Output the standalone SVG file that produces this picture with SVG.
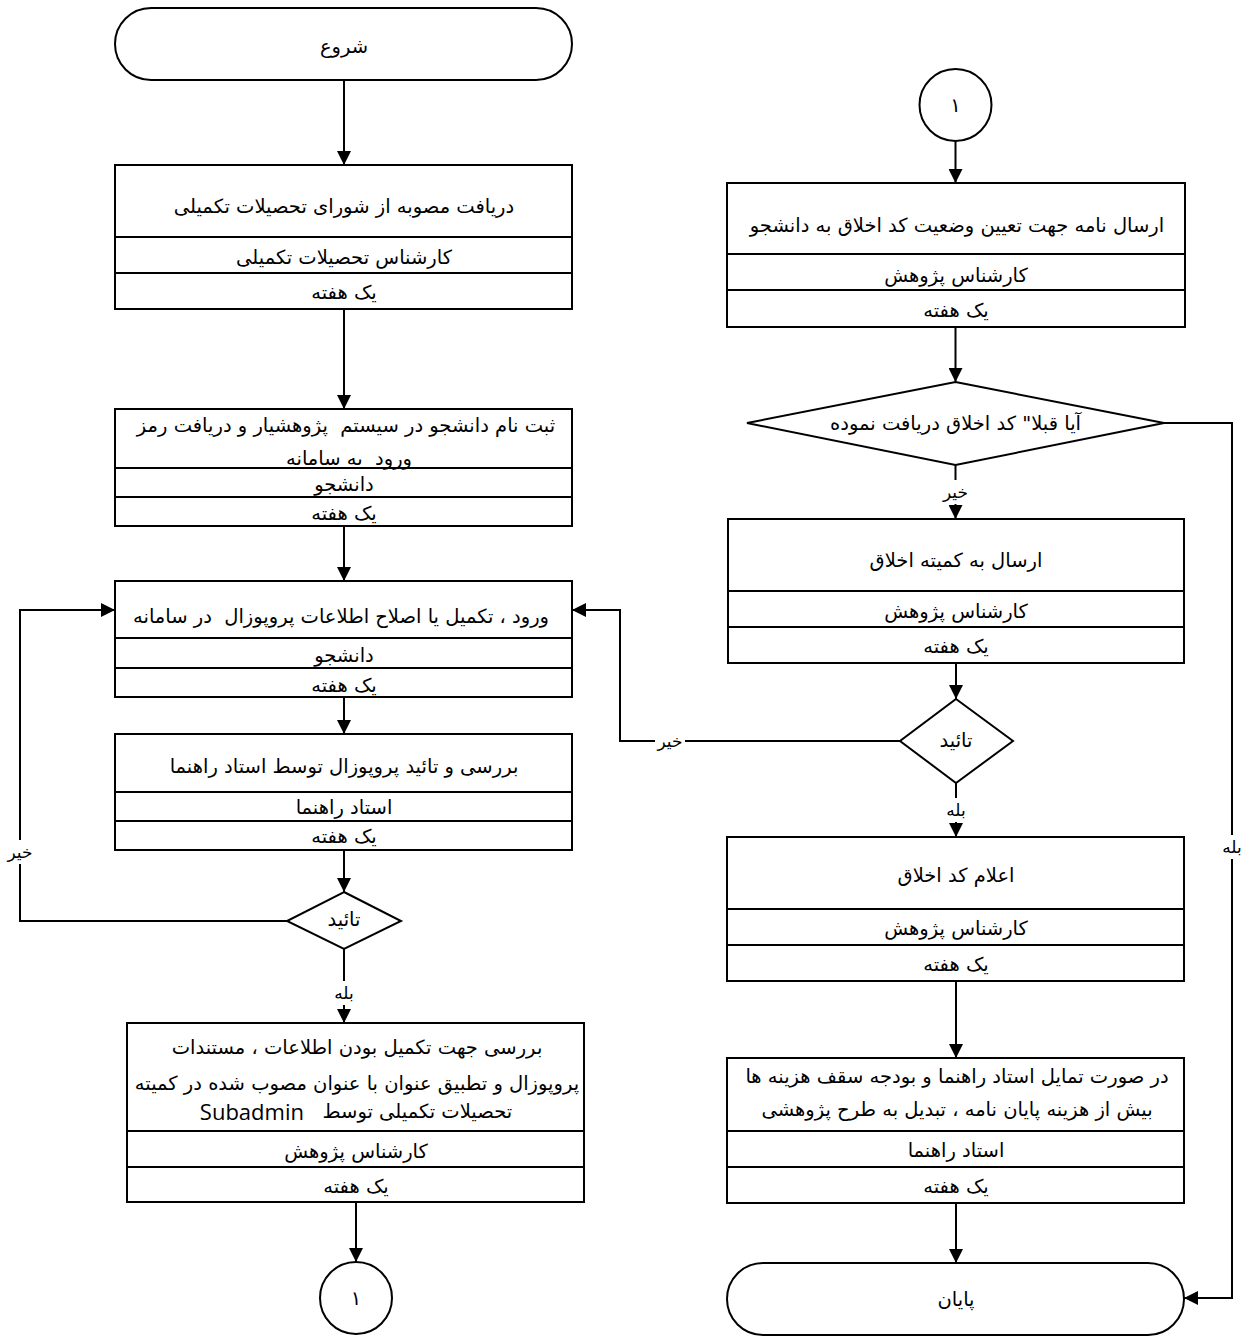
<svg xmlns="http://www.w3.org/2000/svg" width="1247" height="1340" viewBox="0 0 1247 1340">
<defs>
<marker id="ah" markerUnits="userSpaceOnUse" markerWidth="14" markerHeight="14" viewBox="0 0 14 14" refX="14" refY="7" orient="auto">
<path d="M0,0 L14,7 L0,14 Z" fill="#000"/>
</marker>
<style>
.s{fill:#fff;stroke:#000;stroke-width:2}
.ln{fill:none;stroke:#000;stroke-width:2}
.c{fill:none;stroke:#000;stroke-width:2;marker-end:url(#ah)}
.t{font-family:"DejaVu Sans","Noto Sans",sans-serif;font-size:19.5px;fill:#000;text-anchor:middle;direction:rtl;unicode-bidi:embed;dominant-baseline:central;white-space:pre}
.l{font-family:"DejaVu Sans","Noto Sans",sans-serif;font-size:17px;fill:#000;text-anchor:middle;direction:rtl;dominant-baseline:central}
.bg{fill:#fff}
.en{font-family:"Open Sans","DejaVu Sans",sans-serif;font-size:22px;direction:ltr}
</style>
</defs>
<rect width="1247" height="1340" fill="#fff"/>

<g id="connectors">
<path class="c" d="M344 80 V165"/>
<path class="c" d="M344 309 V409"/>
<path class="c" d="M344 526 V581"/>
<path class="c" d="M344 697 V734"/>
<path class="c" d="M344 850 V892"/>
<path class="c" d="M344 949 V1023"/>
<path class="c" d="M287 921 H20 V610 H115"/>
<path class="c" d="M356 1202 V1262"/>
<path class="c" d="M955.5 137 V183"/>
<path class="c" d="M955.5 327 V382"/>
<path class="c" d="M955.5 465 V519"/>
<path class="c" d="M1164 423 H1232 V1298 H1184"/>
<path class="c" d="M956 663 V699"/>
<path class="c" d="M900 741 H620 V610 H572"/>
<path class="c" d="M956 783 V837"/>
<path class="c" d="M956 981 V1058"/>
<path class="c" d="M956 1203 V1263"/>
<rect class="bg" x="330" y="981" width="28" height="24"/>
<text class="l" x="344" y="993">بله</text>
<rect class="bg" x="5" y="840" width="30" height="24"/>
<text class="l" x="20" y="852">خیر</text>
<rect class="bg" x="941" y="480" width="30" height="24"/>
<text class="l" x="955.5" y="492">خیر</text>
<rect class="bg" x="1218" y="835" width="28" height="24"/>
<text class="l" x="1232" y="847">بله</text>
<rect class="bg" x="655" y="731" width="30" height="20"/>
<text class="l" x="670" y="741">خیر</text>
<rect class="bg" x="942" y="798" width="28" height="24"/>
<text class="l" x="956" y="810">بله</text>
</g>

<g id="start">
<rect class="s" x="115" y="8" width="457" height="72" rx="36"/>
<text class="t" x="344" y="46">شروع</text>
</g>

<g id="box1">
<rect class="s" x="115" y="165" width="457" height="144"/>
<line class="ln" x1="115" y1="237" x2="572" y2="237"/>
<line class="ln" x1="115" y1="273" x2="572" y2="273"/>
<text class="t" x="344" y="206">دریافت مصوبه از شورای تحصیلات تکمیلی</text>
<text class="t" x="344" y="257">کارشناس تحصیلات تکمیلی</text>
<text class="t" x="344" y="292">یک هفته</text>
</g>

<g id="box2">
<rect class="s" x="115" y="409" width="457" height="117"/>
<line class="ln" x1="115" y1="468" x2="572" y2="468"/>
<line class="ln" x1="115" y1="497" x2="572" y2="497"/>
<text class="t" x="346" y="425">ثبت نام دانشجو در سیستم  پژوهشیار و دریافت رمز</text>
<text class="t" x="349" y="458">ورود  به سامانه</text>
<text class="t" x="344" y="484">دانشجو</text>
<text class="t" x="344" y="513">یک هفته</text>
</g>

<g id="box3">
<rect class="s" x="115" y="581" width="457" height="116"/>
<line class="ln" x1="115" y1="638" x2="572" y2="638"/>
<line class="ln" x1="115" y1="668" x2="572" y2="668"/>
<text class="t" x="341" y="616">ورود ، تکمیل یا اصلاح اطلاعات پروپوزال  در سامانه</text>
<text class="t" x="344" y="655">دانشجو</text>
<text class="t" x="344" y="685">یک هفته</text>
</g>

<g id="box4">
<rect class="s" x="115" y="734" width="457" height="116"/>
<line class="ln" x1="115" y1="792" x2="572" y2="792"/>
<line class="ln" x1="115" y1="821" x2="572" y2="821"/>
<text class="t" x="344" y="766">بررسی و تائید پروپوزال توسط استاد راهنما</text>
<text class="t" x="344" y="807">استاد راهنما</text>
<text class="t" x="344" y="836">یک هفته</text>
</g>

<g id="decision1">
<polygon class="s" points="344,892 401,921 344,949 287,921"/>
<text class="t" x="344" y="919">تائید</text>
</g>

<g id="box5">
<rect class="s" x="127" y="1023" width="457" height="179"/>
<line class="ln" x1="127" y1="1131" x2="584" y2="1131"/>
<line class="ln" x1="127" y1="1167" x2="584" y2="1167"/>
<text class="t" x="357" y="1047">بررسی جهت تکمیل بودن اطلاعات ، مستندات</text>
<text class="t" x="357" y="1083">پروپوزال و تطبیق عنوان با عنوان مصوب شده در کمیته</text>
<text class="t" x="356" y="1111">تحصیلات تکمیلی توسط   <tspan class="en">Subadmin</tspan></text>
<text class="t" x="356" y="1151">کارشناس پژوهش</text>
<text class="t" x="356" y="1186">یک هفته</text>
</g>

<g id="connector1a">
<circle class="s" cx="356" cy="1298" r="36"/>
<text class="t" x="356" y="1298">۱</text>
</g>

<g id="connector1b">
<circle class="s" cx="955.5" cy="105" r="36"/>
<text class="t" x="955.5" y="105">۱</text>
</g>

<g id="box6">
<rect class="s" x="727" y="183" width="458" height="144"/>
<line class="ln" x1="727" y1="254" x2="1185" y2="254"/>
<line class="ln" x1="727" y1="290" x2="1185" y2="290"/>
<text class="t" x="957" y="225">ارسال نامه جهت تعیین وضعیت کد اخلاق به دانشجو</text>
<text class="t" x="956" y="275">کارشناس پژوهش</text>
<text class="t" x="956" y="310">یک هفته</text>
</g>

<g id="decision2">
<polygon class="s" points="955.5,382 1164,423 955.5,465 747,423"/>
<text class="t" x="955.5" y="423">آیا قبلا" کد اخلاق دریافت نموده</text>
</g>

<g id="box7">
<rect class="s" x="728" y="519" width="456" height="144"/>
<line class="ln" x1="728" y1="591" x2="1184" y2="591"/>
<line class="ln" x1="728" y1="627" x2="1184" y2="627"/>
<text class="t" x="956" y="560">ارسال به کمیته اخلاق</text>
<text class="t" x="956" y="611">کارشناس پژوهش</text>
<text class="t" x="956" y="646">یک هفته</text>
</g>

<g id="decision3">
<polygon class="s" points="956,699 1013,741 956,783 900,741"/>
<text class="t" x="956" y="740">تائید</text>
</g>

<g id="box8">
<rect class="s" x="727" y="837" width="457" height="144"/>
<line class="ln" x1="727" y1="909" x2="1184" y2="909"/>
<line class="ln" x1="727" y1="945" x2="1184" y2="945"/>
<text class="t" x="956" y="875">اعلام کد اخلاق</text>
<text class="t" x="956" y="928">کارشناس پژوهش</text>
<text class="t" x="956" y="964">یک هفته</text>
</g>

<g id="box9">
<rect class="s" x="727" y="1058" width="457" height="145"/>
<line class="ln" x1="727" y1="1131" x2="1184" y2="1131"/>
<line class="ln" x1="727" y1="1167" x2="1184" y2="1167"/>
<text class="t" x="957" y="1076">در صورت تمایل استاد راهنما و بودجه سقف هزینه ها</text>
<text class="t" x="957" y="1109">بیش از هزینه پایان نامه ، تبدیل به طرح پژوهشی</text>
<text class="t" x="956" y="1150">استاد راهنما</text>
<text class="t" x="956" y="1186">یک هفته</text>
</g>

<g id="end">
<rect class="s" x="727" y="1263" width="457" height="72" rx="36"/>
<text class="t" x="956" y="1299">پایان</text>
</g>
</svg>
